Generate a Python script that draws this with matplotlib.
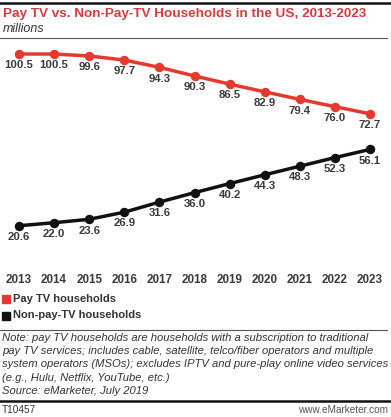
import matplotlib
matplotlib.use("Agg")
import matplotlib.pyplot as plt
from matplotlib.lines import Line2D
from matplotlib.patches import Rectangle

years = [2013, 2014, 2015, 2016, 2017, 2018, 2019, 2020, 2021, 2022, 2023]
pay_tv = [100.5, 100.5, 99.6, 97.7, 94.3, 90.3, 86.5, 82.9, 79.4, 76.0, 72.7]
non_pay_tv = [20.6, 22.0, 23.6, 26.9, 31.6, 36.0, 40.2, 44.3, 48.3, 52.3, 56.1]
series_names = ["Pay TV households", "Non-pay-TV households"]

RED = "#e5392e"
TITLE_RED = "#d63a3f"
BLACK = "#111111"
GRAY = "#333333"
FONT = "Liberation Sans"

W, H = 391, 417
fig = plt.figure(figsize=(W / 100, H / 100), dpi=100)
fig.patch.set_facecolor("white")

def fy(py):
    return 1 - py / H

def fx(px):
    return px / W

# axes: value 0 at y=270px, top at 45px
ax = fig.add_axes([0, fy(270), 1, (270 - 45) / H])
ax.set_xlim(2013 - 19 / 35.1, 2023 + (W - 370) / 35.1)
ax.set_ylim(0, 225 / 2.149)
ax.axis("off")

for vals, col in [(pay_tv, RED), (non_pay_tv, BLACK)]:
    ax.plot(years, vals, color=col, lw=2.5, marker="o", ms=5.8, zorder=3,
            solid_capstyle="round")
    for x, v in zip(years, vals):
        ax.annotate(f"{v:.1f}", (x, v), xytext=(0, -4.5), textcoords="offset points",
                    ha="center", va="top", fontsize=8.2, color="#3a3a3a",
                    family=FONT, fontweight="bold")

for x in years:
    ax.annotate(str(x), (x, 0), xytext=(0, -3), textcoords="offset points",
                ha="center", va="top", fontsize=8.4, color="#3a3a3a",
                family=FONT, fontweight="bold", annotation_clip=False)

# header
fig.add_artist(Line2D([0, 1], [fy(3), fy(3)], color=BLACK, lw=1.8))
fig.text(fx(3), fy(14), "Pay TV vs. Non-Pay-TV Households in the US, 2013-2023",
         color=TITLE_RED, fontsize=9.7, fontweight="bold", family=FONT,
         ha="left", va="center")
fig.text(fx(3), fy(29), "millions", color=GRAY, fontsize=9, style="italic",
         family=FONT, ha="left", va="center")
fig.add_artist(Line2D([0, fx(387)], [fy(38), fy(38)], color="#555555", lw=0.8))

# legend
for i, (name, col) in enumerate(zip(series_names, [RED, BLACK])):
    yc = 299 + i * 16.5
    fig.add_artist(Rectangle((fx(2), fy(yc + 4)), 8 / W, 8 / H, color=col,
                             transform=fig.transFigure))
    fig.text(fx(13.5), fy(yc), name, color=GRAY, fontsize=8.0, fontweight="bold",
             family=FONT, ha="left", va="center")

fig.add_artist(Line2D([0, fx(387)], [fy(330), fy(330)], color="#555555", lw=0.8))

note_lines = [
    "Note: pay TV households are households with a subscription to traditional",
    "pay TV services; includes cable, satellite, telco/fiber operators and multiple",
    "system operators (MSOs); excludes IPTV and pure-play online video services",
    "(e.g., Hulu, Netflix, YouTube, etc.)",
    "Source: eMarketer, July 2019",
]
for i, line in enumerate(note_lines):
    fig.text(fx(2), fy(338 + i * 13.2), line, color=GRAY, fontsize=8.1,
             style="italic", family=FONT, ha="left", va="center")

fig.add_artist(Line2D([0, 1], [fy(401), fy(401)], color=BLACK, lw=1.8))
fig.text(fx(2), fy(410), "T10457", color=GRAY, fontsize=7.2, family=FONT,
         ha="left", va="center")
fig.text(fx(388), fy(410), "www.eMarketer.com", color="#555555", fontsize=7.2,
         family=FONT, ha="right", va="center")

fig.savefig("out.png", dpi=100, facecolor="white")
